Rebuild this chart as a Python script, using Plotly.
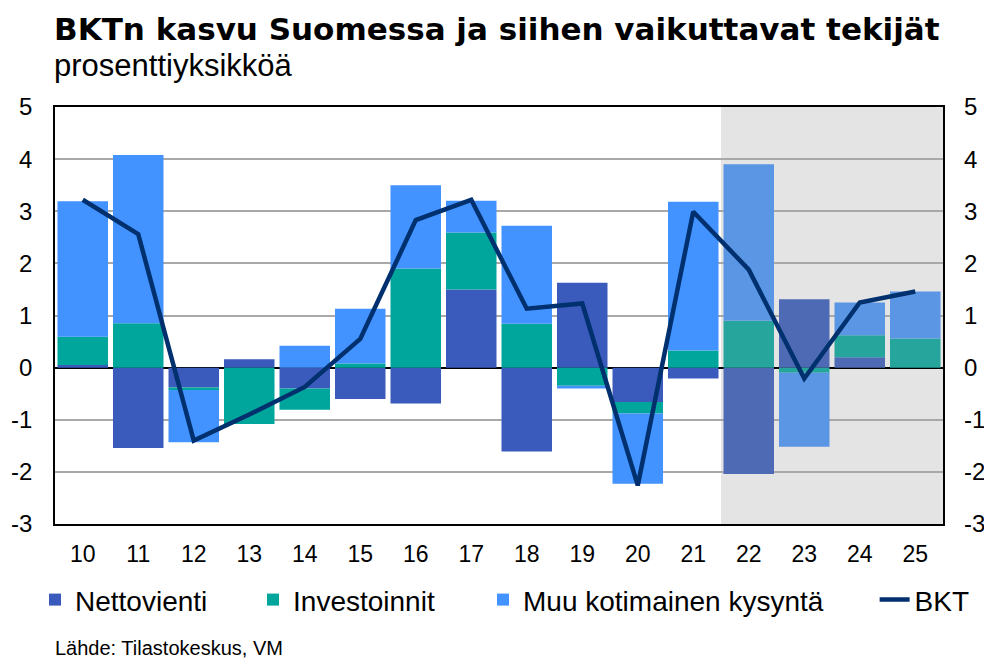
import plotly.graph_objects as go

years = ["10", "11", "12", "13", "14", "15", "16", "17", "18", "19", "20", "21", "22", "23", "24", "25"]
nettovienti = [0.05, -1.54, -0.38, 0.16, -0.40, -0.60, -0.69, 1.50, -1.61, 1.63, -0.66, -0.21, -2.04, 1.31, 0.20, 0.0]
investoinnit = [0.54, 0.85, -0.05, -1.08, -0.41, 0.08, 1.90, 1.09, 0.84, -0.35, -0.22, 0.33, 0.90, -0.10, 0.42, 0.56]
muu_kotimainen = [2.60, 3.23, -1.00, 0.0, 0.42, 1.05, 1.60, 0.61, 1.88, -0.05, -1.35, 2.85, 3.00, -1.42, 0.63, 0.90]
bkt = [3.22, 2.56, -1.40, -0.90, -0.37, 0.55, 2.83, 3.22, 1.13, 1.23, -2.26, 2.99, 1.88, -0.21, 1.25, 1.46]
y_ticks = [5, 4, 3, 2, 1, 0, -1, -2, -3]
n_forecast = 4

def colors(hist, fc):
    return [hist] * (len(years) - n_forecast) + [fc] * n_forecast

FONT = "Liberation Sans, Arial, sans-serif"

fig = go.Figure()
fig.add_trace(go.Bar(x=years, y=nettovienti, name="Nettovienti", legend="legend",
                     marker=dict(color=colors("#3A5ABC", "#4E6AB4"), line=dict(width=0))))
fig.add_trace(go.Bar(x=years, y=investoinnit, name="Investoinnit", legend="legend2",
                     marker=dict(color=colors("#00A59B", "#25A59B"), line=dict(width=0))))
fig.add_trace(go.Bar(x=years, y=muu_kotimainen, name="Muu kotimainen kysyntä", legend="legend3",
                     marker=dict(color=colors("#4292FF", "#5A96E4"), line=dict(width=0))))
fig.add_trace(go.Scatter(x=years, y=bkt, name="BKT", mode="lines", legend="legend4",
                         line=dict(color="#00306E", width=4.5)))
fig.add_trace(go.Scatter(x=years, y=bkt, yaxis="y2", mode="lines", showlegend=False,
                         hoverinfo="skip", line=dict(width=0), opacity=0))

fig.add_shape(type="rect", xref="x", yref="paper", x0=11.5, x1=15.5, y0=0, y1=1,
              fillcolor="#E4E4E4", line=dict(width=0), layer="below")

axis_common = dict(range=[-3, 5], tickvals=y_ticks, ticktext=[str(v) for v in y_ticks],
                   tickfont=dict(family=FONT, size=24, color="#000000"), automargin=False)

LEG_FONT = dict(family=FONT, size=28, color="#000000")
def leg(x):
    return dict(orientation="h", x=x, xanchor="left", y=-0.182, yanchor="middle",
                font=LEG_FONT, itemwidth=30, bgcolor="rgba(0,0,0,0)")

fig.update_layout(
    width=984, height=652,
    margin=dict(l=47, r=49, t=99, b=136),
    paper_bgcolor="white", plot_bgcolor="rgba(0,0,0,0)",
    barmode="relative", bargap=0.09,
    font=dict(family=FONT, color="#000000"),
    xaxis=dict(type="category", range=[-0.5, 15.5], showgrid=False, automargin=False,
               tickfont=dict(family=FONT, size=23, color="#000000"),
               showline=True, linecolor="#000000", linewidth=1.5, mirror=True,
               ticks="", ticklen=0, ticklabelstandoff=9),
    yaxis=dict(**axis_common, showgrid=True, gridcolor="#A8A8A8", gridwidth=1.5,
               zeroline=True, zerolinecolor="#000000", zerolinewidth=1.5,
               showline=True, linecolor="#000000", linewidth=1.5, mirror=True,
               ticks="", ticklabelstandoff=16),
    yaxis2=dict(**axis_common, overlaying="y", side="right", showgrid=False,
                zeroline=False, showline=False, ticks="", ticklabelstandoff=20),
    legend=leg(-0.0225),
    legend2=leg(0.223),
    legend3=leg(0.482),
    legend4=leg(0.923),
    showlegend=True,
)

fig.add_annotation(text="<b>BKTn kasvu Suomessa ja siihen vaikuttavat tekijät</b>",
                   xref="paper", yref="paper", x=0, xanchor="left", xshift=-3,
                   y=1, yanchor="middle", yshift=78, showarrow=False,
                   font=dict(family="DejaVu Sans, sans-serif", size=31, color="#000000"))
fig.add_annotation(text="prosenttiyksikköä",
                   xref="paper", yref="paper", x=0, xanchor="left", xshift=-3,
                   y=1, yanchor="middle", yshift=42, showarrow=False,
                   font=dict(family=FONT, size=31, color="#000000"))
fig.add_annotation(text="Lähde: Tilastokeskus, VM",
                   xref="paper", yref="paper", x=0, xanchor="left", xshift=-2,
                   y=0, yanchor="middle", yshift=-124, showarrow=False,
                   font=dict(family=FONT, size=20, color="#000000"))

fig.write_html("out.html")
